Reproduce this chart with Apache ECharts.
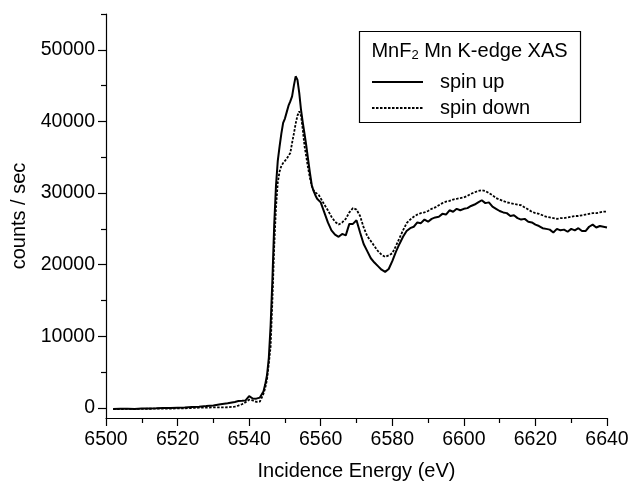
<!DOCTYPE html>
<html>
<head>
<meta charset="utf-8">
<script src="https://cdn.jsdelivr.net/npm/echarts@6/dist/echarts.min.js"></script>
<style>
  html, body { margin: 0; padding: 0; background: #fff; }
  #chart { width: 628px; height: 482px; }
</style>
</head>
<body>
<div id="chart"></div>
<script>
// incidence energy (eV)
var energy = [
  6502, 6504, 6506, 6508, 6510, 6512, 6514, 6516, 6518, 6520, 6522, 6524, 6526, 6528, 6530, 6532, 6534, 6536,
  6537, 6538, 6539, 6540, 6541, 6542, 6543,
  6543.5, 6544, 6544.5, 6545, 6545.5, 6546, 6546.5, 6547, 6547.5, 6548, 6548.5, 6549, 6549.5, 6550,
  6550.5, 6551, 6551.5, 6552, 6552.5, 6553, 6553.5, 6554, 6554.5, 6555, 6555.5, 6556, 6556.5, 6557,
  6557.5, 6558, 6558.5, 6559, 6559.5, 6560,
  6561, 6562, 6563, 6564, 6565, 6566, 6567, 6568, 6569, 6570, 6571, 6572, 6573, 6574, 6575, 6576, 6577, 6578, 6579, 6580,
  6581, 6582, 6583, 6584, 6585, 6586, 6587, 6588, 6589, 6590, 6591, 6592, 6593, 6594, 6595, 6596, 6597, 6598, 6599, 6600,
  6601, 6602, 6603, 6604, 6605, 6606, 6607, 6608, 6609, 6610, 6611, 6612, 6613, 6614, 6615, 6616, 6617, 6618, 6619, 6620,
  6621, 6622, 6623, 6624, 6625, 6626, 6627, 6628, 6629, 6630, 6631, 6632, 6633, 6634, 6635, 6636, 6637, 6638, 6639, 6640
];
// counts / sec, spin up
var spinUp = [
  -150, -120, -100, -130, -90, -60, -50, -20, 0, 30, 60, 120, 180, 260, 360, 510, 650, 840,
  960, 1000, 1050, 1650, 1320, 1300, 1450,
  1200, 2300, 3300, 4600, 7000, 11500, 17900, 25500, 31000, 34500, 36500, 38300, 39800, 40400,
  41300, 42200, 42800, 43500, 45000, 46300, 45800, 44000, 41600, 39800, 38200, 36500, 34600, 32800,
  31100, 30300, 29700, 29200, 29000, 28700,
  27300, 25900, 24800, 24200, 23900, 24300, 24100, 25700, 25700, 26200, 24500, 22900, 21900, 20900, 20300, 19800, 19300, 19000, 19400, 20500,
  21800, 22900, 23900, 24700, 25100, 25300, 25900, 25800, 26300, 26000, 26400, 26600, 26700, 27100, 27000, 27600, 27400, 27800, 27600, 27800,
  27900, 28200, 28400, 28700, 29000, 28600, 28700, 28100, 27800, 27500, 27300, 27200, 26800, 26900, 26500, 26300, 26400, 26000, 25900, 25600,
  25400, 25100, 25000, 24900, 24500, 25000, 24800, 24900, 24600, 25000, 24800, 25100, 24700, 24700, 25300, 25600, 25200, 25400, 25300, 25200
];
// counts / sec, spin down
var spinDown = [
  -150, -150, -130, -140, -120, -110, -100, -90, -80, -60, -40, 0, 40, 60, 80, 90, 100, 180,
  340, 520, 800, 1150, 1050, 850, 900,
  1400, 2000, 2800, 4000, 6200, 8600, 15000, 22500, 28000, 31500, 33000, 33800, 34200, 34500,
  34800, 35000, 35600, 37000, 38300, 39700, 40800, 41400, 40800, 38800, 36500, 35000, 33400, 32100,
  31000, 30400, 30100, 29900, 29700, 29500,
  28400, 27600, 26700, 26000, 25600, 25900, 26400, 27300, 27900, 27700, 26800, 25200, 24000, 23300, 22600, 21900, 21400, 21100, 21300, 21600,
  22600, 23700, 24800, 25800, 26300, 26700, 27000, 27200, 27300, 27500, 27800, 28000, 28300, 28600, 28800, 28900, 29100, 29200, 29300, 29400,
  29600, 29900, 30100, 30300, 30400, 30300, 30000, 29700, 29300, 29100, 28900, 28700, 28600, 28500, 28400, 28300, 28000, 27700, 27400, 27200,
  27100, 26900, 26700, 26600, 26500, 26400, 26500, 26500, 26600, 26700, 26800, 26800, 26900, 27000, 27100, 27200, 27200, 27300, 27400, 27400
];
var yLabels = [0, 10000, 20000, 30000, 40000, 50000];
var yMinor = [5000, 15000, 25000, 35000, 45000, 55000];

var font = "'Liberation Sans', Arial, Helvetica, sans-serif";

function pairs(xs, ys) {
  return xs.map(function (x, i) { return [x, ys[i]]; });
}

// one legend per entry so each row sits where the reference puts it
function legendRow(name, top) {
  return {
    data: [name],
    left: 371,
    top: top,
    padding: 0,
    itemWidth: 51,
    itemHeight: 20,
    itemGap: 0,
    itemStyle: { opacity: 0 },
    textStyle: { fontFamily: font, fontSize: 20, color: '#000', lineHeight: 20, padding: [0, 0, 0, 12] }
  };
}

var chart = echarts.init(document.getElementById('chart'), null, { renderer: 'canvas' });

chart.setOption({
  animation: false,
  backgroundColor: '#fff',
  grid: { left: 106, right: 21, top: 14, bottom: 64, outerBoundsMode: 'none' },
  xAxis: {
    type: 'value',
    min: 6500,
    max: 6640,
    interval: 20,
    name: 'Incidence Energy (eV)',
    nameLocation: 'middle',
    nameGap: 43,
    nameTextStyle: { fontFamily: font, fontSize: 20, color: '#000' },
    axisLine: { onZero: false, lineStyle: { color: '#000', width: 1.2 } },
    axisTick: { length: 8, lineStyle: { color: '#000', width: 1.2 } },
    minorTick: { show: true, splitNumber: 2, length: 5, lineStyle: { color: '#000', width: 1.2 } },
    axisLabel: {
      margin: 12, fontFamily: font, fontSize: 19.5, color: '#000',
      formatter: function (v) { return String(v); }
    },
    splitLine: { show: false }
  },
  yAxis: [{
    type: 'value',
    min: -1400,
    max: 55000,
    name: 'counts / sec',
    nameLocation: 'middle',
    nameGap: 62,
    nameTextStyle: { fontFamily: font, fontSize: 20, color: '#000' },
    axisLine: { show: true, lineStyle: { color: '#000', width: 1.2 } },
    axisTick: { length: 8, customValues: yLabels, lineStyle: { color: '#000', width: 1.2 } },
    axisLabel: {
      margin: 11, fontFamily: font, fontSize: 19.5, color: '#000',
      customValues: yLabels,
      formatter: function (v) { return String(v); }
    },
    splitLine: { show: false }
  }, {
    type: 'value',
    min: -1400,
    max: 55000,
    position: 'left',
    axisLine: { show: false },
    axisTick: { length: 5, customValues: yMinor, lineStyle: { color: '#000', width: 1.2 } },
    axisLabel: { show: false },
    splitLine: { show: false }
  }],
  legend: [legendRow('spin up', 72), legendRow('spin down', 98)],
  graphic: [{
    type: 'rect',
    shape: { x: 359.5, y: 31.5, width: 221, height: 91 },
    style: { fill: 'none', stroke: '#000', lineWidth: 1.2 },
    z: 10
  }, {
    type: 'text',
    x: 469.5,
    y: 51,
    z: 10,
    style: {
      text: '{n|MnF}{s|2}{n| Mn K-edge XAS}',
      align: 'center',
      verticalAlign: 'middle',
      rich: {
        n: { fontFamily: font, fontSize: 20, color: '#000', lineHeight: 22 },
        s: { fontFamily: font, fontSize: 13, color: '#000', lineHeight: 13, verticalAlign: 'bottom' }
      }
    }
  }],
  series: [{
    name: 'spin up',
    type: 'line',
    symbol: 'none',
    showSymbol: false,
    lineStyle: { color: '#000', width: 2 },
    itemStyle: { color: '#000' },
    data: pairs(energy, spinUp)
  }, {
    name: 'spin down',
    type: 'line',
    symbol: 'none',
    showSymbol: false,
    lineStyle: { color: '#000', width: 1.8, type: [2.5, 1.5] },
    itemStyle: { color: '#000' },
    data: pairs(energy, spinDown)
  }]
});
</script>
</body>
</html>
